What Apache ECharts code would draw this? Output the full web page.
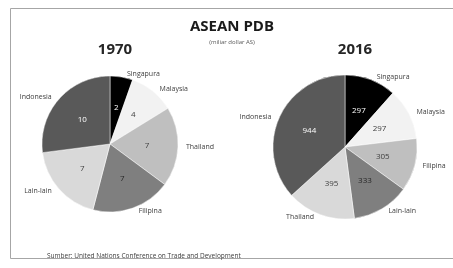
<!DOCTYPE html>
<html>
<head>
<meta charset="utf-8">
<script src="https://cdn.jsdelivr.net/npm/echarts@6/dist/echarts.min.js"></script>
<style>
  html, body { margin: 0; padding: 0; background: #fff; }
  #chart { width: 453px; height: 268px; }
</style>
</head>
<body>
<div id="chart"></div>
<script>
// 数据
const names1970 = ['Singapura', 'Malaysia', 'Thailand', 'Filipina', 'Lain-lain', 'Indonesia']
const values1970 = [2, 4, 7, 7, 7, 10]
const names2016 = ['Singapura', 'Malaysia', 'Filipina', 'Lain-lain', 'Thailand', 'Indonesia']
const values2016 = [297, 297, 305, 333, 395, 944]
const sliceColors = ['#000000', '#f2f2f2', '#bfbfbf', '#7f7f7f', '#d9d9d9', '#595959']
const valueColors = ['#ffffff', '#404040', '#404040', '#262626', '#404040', '#ffffff']

const fontFamily = 'Open Sans'

const makeData = (names, values) => names.map((n, i) => ({
  name: n,
  value: values[i],
  itemStyle: { color: sliceColors[i] },
  label: { color: valueColors[i] }
}))

// 外侧名称 + 内侧数值，两层叠加
const makePie = (names, values, center, radius) => [
  {
    type: 'pie',
    center: center,
    radius: radius,
    startAngle: 90,
    clockwise: true,
    silent: true,
    animation: false,
    data: names.map((n, i) => ({ name: n, value: values[i], itemStyle: { color: sliceColors[i] } })),
    itemStyle: { borderColor: '#ffffff', borderWidth: 0.5 },
    label: {
      show: true,
      position: 'outside',
      formatter: '{b}',
      fontSize: 7,
      color: '#404040',
      fontFamily: fontFamily,
      overflow: 'none'
    },
    labelLine: { show: false, length: 3, length2: 0 }
  },
  {
    type: 'pie',
    center: center,
    radius: radius,
    startAngle: 90,
    clockwise: true,
    silent: true,
    animation: false,
    data: makeData(names, values),
    itemStyle: { borderColor: '#ffffff', borderWidth: 0.5 },
    label: {
      show: true,
      position: 'inside',
      formatter: '{c}',
      fontSize: 8,
      fontFamily: fontFamily
    },
    labelLine: { show: false }
  }
]

const chart = echarts.init(document.getElementById('chart'))

chart.setOption({
  animation: false,
  title: [
    {
      text: 'ASEAN PDB',
      left: 227,
      top: 14,
      textAlign: 'center',
      textStyle: { fontSize: 15, fontWeight: 'bold', color: '#1a1a1a', fontFamily: fontFamily }
    },
    {
      text: '(miliar dollar AS)',
      left: 227,
      top: 34,
      textAlign: 'center',
      textStyle: { fontSize: 6, fontWeight: 'normal', color: '#595959', fontFamily: fontFamily }
    },
    {
      text: '1970',
      left: 110,
      top: 37,
      textAlign: 'center',
      textStyle: { fontSize: 15, fontWeight: 'bold', color: '#262626', fontFamily: fontFamily }
    },
    {
      text: '2016',
      left: 350,
      top: 37,
      textAlign: 'center',
      textStyle: { fontSize: 15, fontWeight: 'bold', color: '#262626', fontFamily: fontFamily }
    },
    {
      text: 'Sumber: United Nations Conference on Trade and Development',
      left: 42,
      top: 248,
      textStyle: { fontSize: 6.5, fontWeight: 'normal', color: '#404040', fontFamily: fontFamily }
    }
  ],
  graphic: [
    {
      type: 'rect',
      shape: { x: 10.5, y: 8.5, width: 460, height: 250 },
      style: { fill: 'none', stroke: '#a6a6a6', lineWidth: 1 },
      silent: true
    }
  ],
  series: [
    ...makePie(names1970, values1970, [110, 144], 68),
    ...makePie(names2016, values2016, [345, 147], 72)
  ]
})
</script>
</body>
</html>
